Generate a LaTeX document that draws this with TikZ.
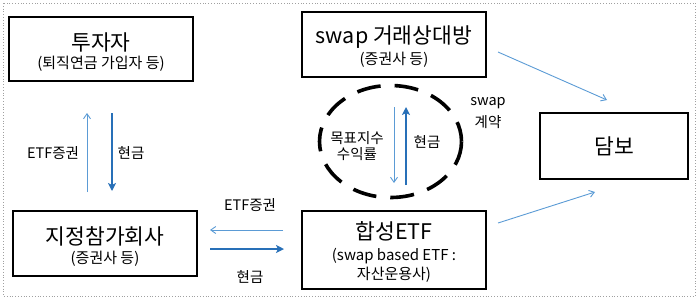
\documentclass[tikz,border=0pt]{standalone}
\usepackage{fontspec}
\setmainfont{Noto Sans CJK KR}
\usetikzlibrary{arrows.meta,shapes.geometric}
\definecolor{lightarr}{RGB}{91,155,213}
\definecolor{darkarr}{RGB}{40,112,184}
\definecolor{framegray}{RGB}{160,160,160}
\begin{document}
\begin{tikzpicture}[x=1pt,y=-1pt,
  box/.style={draw=black,line width=1.7pt,inner sep=0pt},
  maintxt/.style={font=\fontsize{21.5}{24}\selectfont,inner sep=0pt,anchor=center},
  subtxt/.style={font=\fontsize{15}{17}\selectfont,inner sep=0pt,anchor=center},
  lbl/.style={font=\fontsize{14.5}{17}\selectfont,inner sep=0pt,anchor=center,align=center},
  thinarr/.style={draw=lightarr,line width=0.9pt,-{Straight Barb[length=5pt,width=7pt]}},
  thickarr/.style={draw=darkarr,line width=1.9pt,-{Stealth[length=8pt,width=8pt,inset=2pt]}}
]
\useasboundingbox (0,0) rectangle (700,301);
\draw[framegray,line width=0.8pt,dotted] (3,3) rectangle (695,296);

% boxes
\node[box,minimum width=184pt,minimum height=64pt] (inv) at (101,49) {};
\node[maintxt] (invA) at (101,42) {투자자};
\node[subtxt] (invB) at (101,64) {(퇴직연금 가입자 등)};

\node[box,minimum width=184pt,minimum height=65pt] (swp) at (394,44.5) {};
\node[maintxt] (swpA) at (394,37) {swap 거래상대방};
\node[subtxt] (swpB) at (394,60) {(증권사 등)};

\node[box,minimum width=148pt,minimum height=66pt] (col) at (614,146) {};
\node[maintxt] (colA) at (614,146) {담보};

\node[box,minimum width=184pt,minimum height=65pt] (ap) at (105,243.5) {};
\node[maintxt] (apA) at (105,236) {지정참가회사};
\node[subtxt] (apB) at (105,259) {(증권사 등)};

\node[box,minimum width=184pt,minimum height=78pt] (etf) at (394,250) {};
\node[maintxt] (etfA) at (394,231) {합성ETF};
\node[subtxt] (etfB) at (394,256) {(swap based ETF :};
\node[subtxt] (etfC) at (394,275) {자산운용사)};

% dashed ellipse
\node[ellipse,draw=black,line width=3.6pt,dash pattern=on 24pt off 14pt,dash phase=4pt,
      minimum width=142pt,minimum height=112pt,inner sep=0pt] (sw) at (390.5,141.5) {};

% coordinates for arrows
\coordinate (l1a) at (87,192); \coordinate (l1b) at (87,113);
\coordinate (l2a) at (112,113); \coordinate (l2b) at (112,191);
\coordinate (h1a) at (283,230); \coordinate (h1b) at (210,230);
\coordinate (h2a) at (210,249); \coordinate (h2b) at (284,249);
\coordinate (m1a) at (394,107); \coordinate (m1b) at (394,183);
\coordinate (m2a) at (406,185); \coordinate (m2b) at (406,107);
\coordinate (d1a) at (498,52); \coordinate (d1b) at (607,100);
\coordinate (d2a) at (498,223); \coordinate (d2b) at (595,192);

\draw[thinarr] (l1a) -- (l1b);
\draw[thickarr] (l2a) -- (l2b);
\draw[thinarr] (h1a) -- (h1b);
\draw[thickarr] (h2a) -- (h2b);
\draw[thinarr] (m1a) -- (m1b);
\draw[thickarr] (m2a) -- (m2b);
\draw[thinarr] (d1a) -- (d1b);
\draw[thinarr] (d2a) -- (d2b);

% labels
\node[lbl] (t1) at (53,153) {ETF증권};
\node[lbl] (t2) at (131,153) {현금};
\node[lbl] (t3) at (250,205) {ETF증권};
\node[lbl] (t4) at (250,277) {현금};
\node[lbl] (t5) at (357,138) {목표지수};
\node[lbl] (t6) at (357,154) {수익률};
\node[lbl] (t7) at (427,142) {현금};
\node[lbl] (t8) at (488,103) {swap};
\node[lbl] (t9) at (488,122) {계약};
\end{tikzpicture}
\end{document}
